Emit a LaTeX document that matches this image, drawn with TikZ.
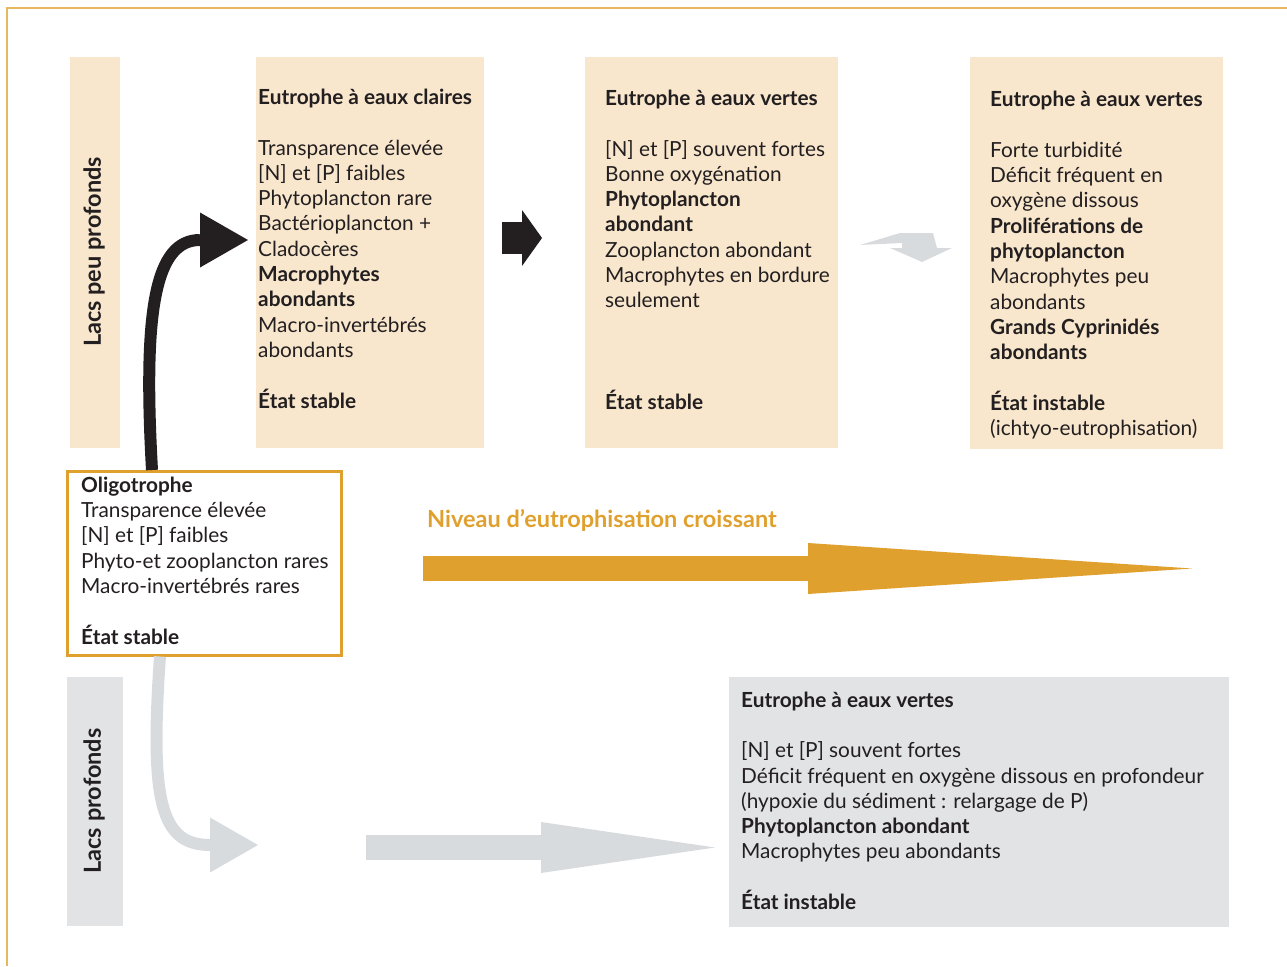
\documentclass[tikz,border=0pt]{standalone}
\usepackage{fontspec}
\setmainfont{Lato}
\usetikzlibrary{arrows.meta}
\definecolor{beige}{HTML}{F8E7CD}
\definecolor{lightgrey}{HTML}{E2E3E5}
\definecolor{arrowgrey}{HTML}{D8DBDE}
\definecolor{ochre}{HTML}{DFA02E}
\definecolor{frameline}{HTML}{E8B860}
\definecolor{ink}{HTML}{231F20}

\begin{document}
\begin{tikzpicture}[x=1pt,y=-1pt,
  box/.style={inner sep=0,anchor=north west},
  beige box/.style={box,fill=beige},
  grey box/.style={box,fill=lightgrey},
  % base = baseline of the last line
  txt/.style={anchor=base west,inner sep=0,align=left,text=ink,
    font=\fontsize{20.8}{25.3}\selectfont},
  side/.style={rotate=90,inner sep=0,text=ink,font=\fontsize{23.5}{28}\selectfont\bfseries},
  bent/.style={line width=12pt,-{Triangle[length=48pt,width=55pt,line width=0pt]}},
  block/.style={line width=25pt,-{Triangle[length=#1,width=51pt,line width=0pt]}}]

  \useasboundingbox (0,0) rectangle (1287,966);
  \draw[frameline,line width=2pt] (7,966) -- (7,8) -- (1287,8);

  % boxes
  \node[beige box,minimum width=50pt,minimum height=391pt] (s1) at (70,57) {};
  \node[beige box,minimum width=228pt,minimum height=391pt] (2) at (256,57) {};
  \node[beige box,minimum width=253pt,minimum height=391pt] (3) at (585,57) {};
  \node[beige box,minimum width=253pt,minimum height=392pt] (4) at (970,57) {};
  \node[box,draw=ochre,line width=2.5pt,fill=white,minimum width=274pt,minimum height=184pt] (1) at (66,470) {};
  \node[grey box,minimum width=56pt,minimum height=249pt] (s2) at (67,677) {};
  \node[grey box,minimum width=500pt,minimum height=250pt] (5) at (729,677) {};

  \node[side] (l1) at (94,252) {Lacs peu profonds};
  \node[side] (l2) at (94,801) {Lacs profonds};

  \node[txt] (t2) at (258,408) {\textbf{Eutrophe à eaux claires}\\[25.3pt]
    Transparence élevée\\ {[N]} et [P] faibles\\ Phytoplancton rare\\
    Bactérioplancton +\\ Cladocères\\ \textbf{Macrophytes}\\ \textbf{abondants}\\
    Macro-invertébrés\\ abondants\\[25.3pt] \textbf{État stable}};
  \node[txt] (t3) at (605,409) {\textbf{Eutrophe à eaux vertes}\\[25.3pt]
    {[N]} et [P] souvent fortes\\ Bonne oxygénation\\ \textbf{Phytoplancton}\\
    \textbf{abondant}\\ Zooplancton abondant\\ Macrophytes en bordure\\
    seulement\\[75.9pt] \textbf{État stable}};
  \node[txt] (t4) at (990,435.5) {\textbf{Eutrophe à eaux vertes}\\[25.3pt]
    Forte turbidité\\ Déficit fréquent en\\ oxygène dissous\\
    \textbf{Proliférations de}\\ \textbf{phytoplancton}\\ Macrophytes peu\\
    abondants\\ \textbf{Grands Cyprinidés}\\ \textbf{abondants}\\[25.3pt]
    \textbf{État instable}\\ (ichtyo-eutrophisation)};
  \node[txt] (t1) at (81,644) {\textbf{Oligotrophe}\\ Transparence élevée\\
    {[N]} et [P] faibles\\ Phyto-et zooplancton rares\\
    Macro-invertébrés rares\\[25.3pt] \textbf{État stable}};
  \node[txt] (t5) at (741,909.5) {\textbf{Eutrophe à eaux vertes}\\[25.3pt]
    {[N]} et [P] souvent fortes\\ Déficit fréquent en oxygène dissous en profondeur\\
    (hypoxie du sédiment : relargage de P)\\ \textbf{Phytoplancton abondant}\\
    Macrophytes peu abondants\\[25.3pt] \textbf{État instable}};

  \node[txt,text=ochre,font=\fontsize{23.5}{28}\selectfont\bfseries] (niveau) at (427,527)
    {Niveau d’eutrophisation croissant};

  % arrows
  \coordinate (a1) at (248,240);
  \coordinate (a2) at (258,845);
  \draw[bent,ink] ([xshift=86pt]1.north west) .. controls (143,310) and (155,240) .. (a1);
  \draw[bent,arrowgrey] ([xshift=94pt]1.south west) .. controls (150,800) and (160,845) .. (a2);

  \coordinate (b0) at (502,238);
  \coordinate (b1) at (542,238);
  \draw[ink,line width=32pt,-{Triangle[length=20pt,width=56pt,line width=0pt]}] (b0) -- (b1);

  \coordinate (c0) at (423,568.5);
  \coordinate (c1) at (1192,568.5);
  \draw[block=384pt,ochre] (c0) -- (c1);

  \coordinate (d0) at (366,847.5);
  \coordinate (d1) at (715,847.5);
  \draw[block=174pt,arrowgrey] (d0) -- (d1);

  \fill[arrowgrey] (860,245) -- (900,233) -- (933,233) -- (937,248) -- (952,248)
    -- (922,262) -- (890,248) -- (902,248) -- (902,243) -- cycle;
\end{tikzpicture}
\end{document}
